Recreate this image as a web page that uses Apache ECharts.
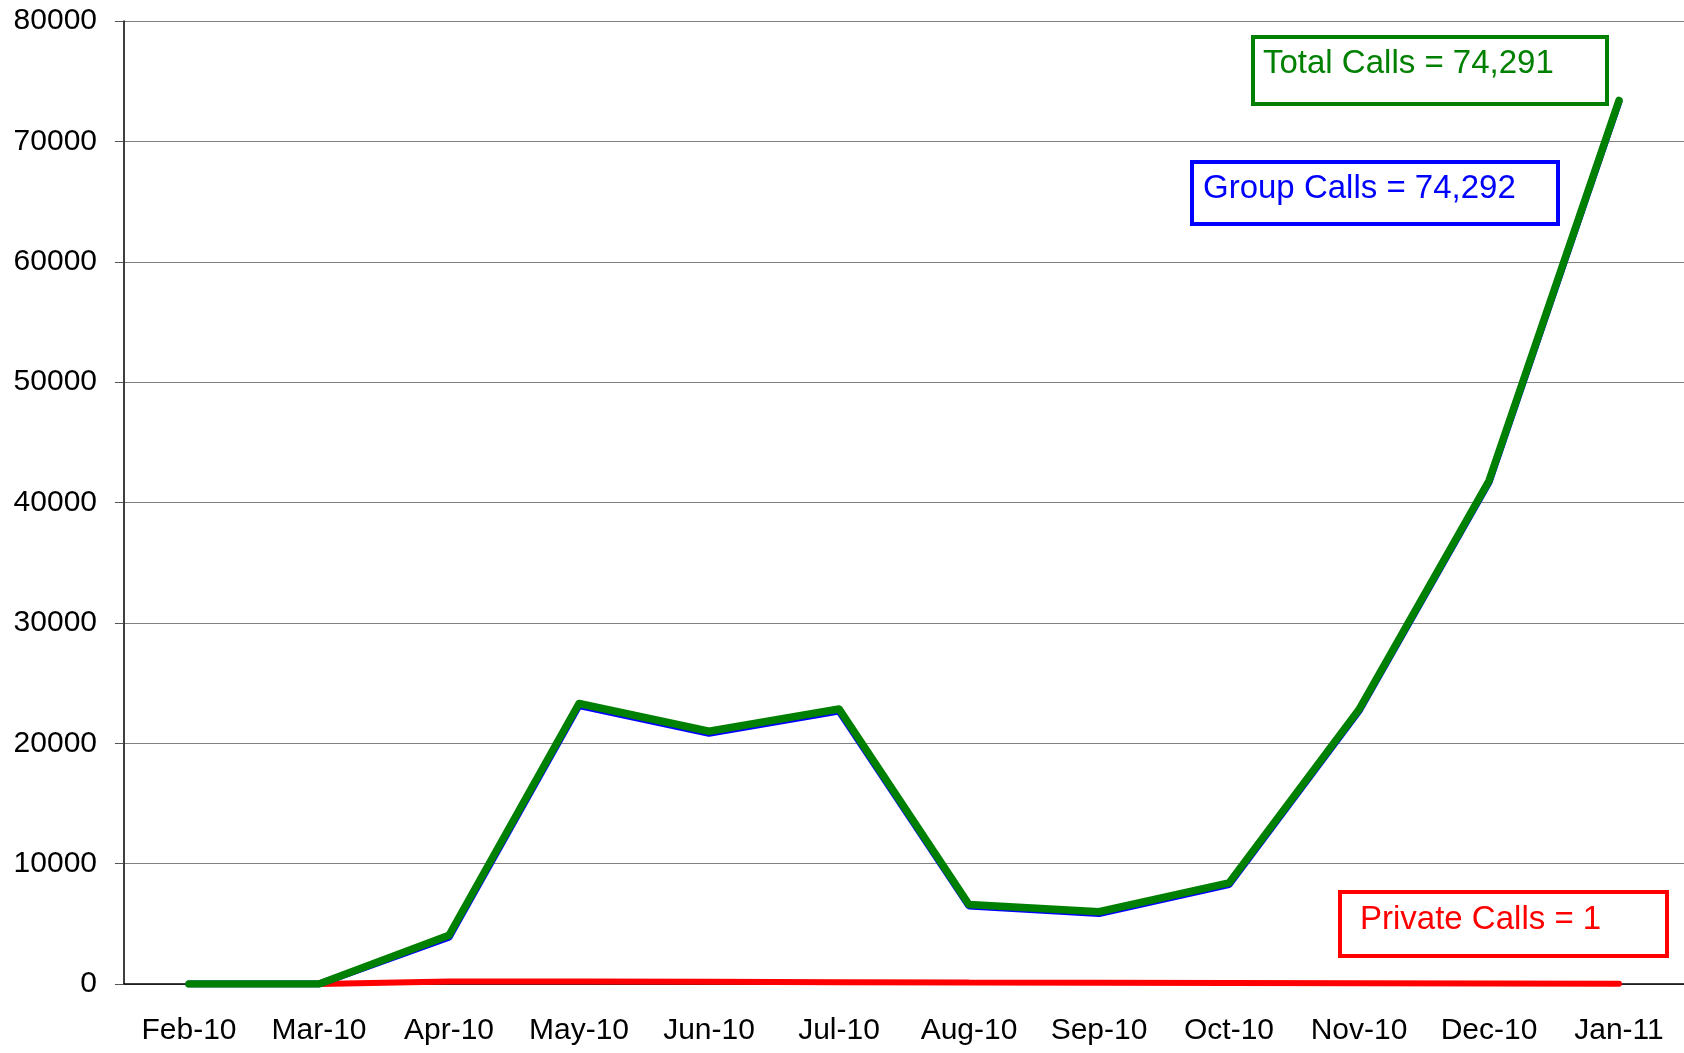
<!DOCTYPE html>
<html>
<head>
<meta charset="utf-8">
<title>Calls</title>
<script src="https://cdn.jsdelivr.net/npm/echarts@6/dist/echarts.min.js"></script>
<style>
  html, body { margin: 0; padding: 0; background: #fff; }
  #chart { width: 1684px; height: 1053px; }
</style>
</head>
<body>
<div id="chart"></div>
<script>
// months on the x axis
var months = ['Feb-10', 'Mar-10', 'Apr-10', 'May-10', 'Jun-10', 'Jul-10',
  'Aug-10', 'Sep-10', 'Oct-10', 'Nov-10', 'Dec-10', 'Jan-11'];
var totalCalls = [0, 0, 4050, 23300, 21000, 22850, 6600, 6000, 8400, 22800, 41800, 73400];
var groupCalls = [0, 0, 3880, 23130, 20830, 22680, 6480, 5860, 8260, 22680, 41680, 73300];
var privateCalls = [null, 0, 200, 200, 180, 150, 120, 100, 80, 60, 40, 20];
var yTicks = [0, 10000, 20000, 30000, 40000, 50000, 60000, 70000, 80000];

var labelFont = 'Arial, "Liberation Sans", sans-serif';

var myChart = echarts.init(document.getElementById('chart'));
var option = {
  animation: false,
  grid: { left: 124, right: 0, top: 21, bottom: 69 },
  xAxis: {
    type: 'category',
    data: months,
    boundaryGap: true,
    axisLine: { lineStyle: { color: '#000', width: 1.5 } },
    axisTick: { length: 10, lineStyle: { color: '#555', width: 1 } },
    axisLabel: { color: '#000', fontSize: 30, fontFamily: labelFont, margin: 32, interval: 0 }
  },
  yAxis: {
    type: 'value',
    min: yTicks[0],
    max: yTicks[yTicks.length - 1],
    interval: yTicks[1] - yTicks[0],
    axisLine: { show: true, lineStyle: { color: '#000', width: 1.5 } },
    axisTick: { show: true, length: 9, lineStyle: { color: '#555' } },
    axisLabel: {
      color: '#000', fontSize: 30, fontFamily: labelFont, margin: 27,
      formatter: function (v) { return String(v); }
    },
    splitLine: { show: true, lineStyle: { color: '#808080', width: 1 } }
  },
  series: [
    {
      name: 'Private Calls',
      type: 'line',
      data: privateCalls,
      showSymbol: false,
      lineStyle: { color: '#ff0000', width: 6, cap: 'round' },
      z: 2
    },
    {
      name: 'Group Calls',
      type: 'line',
      data: groupCalls,
      showSymbol: false,
      lineStyle: { color: '#0000ff', width: 7, cap: 'round' },
      z: 3
    },
    {
      name: 'Total Calls',
      type: 'line',
      data: totalCalls,
      showSymbol: false,
      lineStyle: { color: '#008000', width: 7.5, cap: 'round', join: 'round' },
      z: 4
    }
  ],
  graphic: [
    {
      type: 'group', left: 1251, top: 35,
      children: [
        { type: 'rect', shape: { x: 0, y: 0, width: 354, height: 67 },
          style: { fill: '#fff', stroke: '#008000', lineWidth: 4 } },
        { type: 'text', x: 10, y: 10,
          style: { text: 'Total Calls = 74,291', fill: '#008000', font: '33px ' + labelFont } }
      ]
    },
    {
      type: 'group', left: 1190, top: 160,
      children: [
        { type: 'rect', shape: { x: 0, y: 0, width: 366, height: 62 },
          style: { fill: '#fff', stroke: '#0000ff', lineWidth: 4 } },
        { type: 'text', x: 11, y: 10,
          style: { text: 'Group Calls = 74,292', fill: '#0000ff', font: '33px ' + labelFont } }
      ]
    },
    {
      type: 'group', left: 1338, top: 890,
      children: [
        { type: 'rect', shape: { x: 0, y: 0, width: 327, height: 64 },
          style: { fill: '#fff', stroke: '#ff0000', lineWidth: 4 } },
        { type: 'text', x: 20, y: 11,
          style: { text: 'Private Calls = 1', fill: '#ff0000', font: '33px ' + labelFont } }
      ]
    }
  ]
};
myChart.setOption(option);
</script>
</body>
</html>
